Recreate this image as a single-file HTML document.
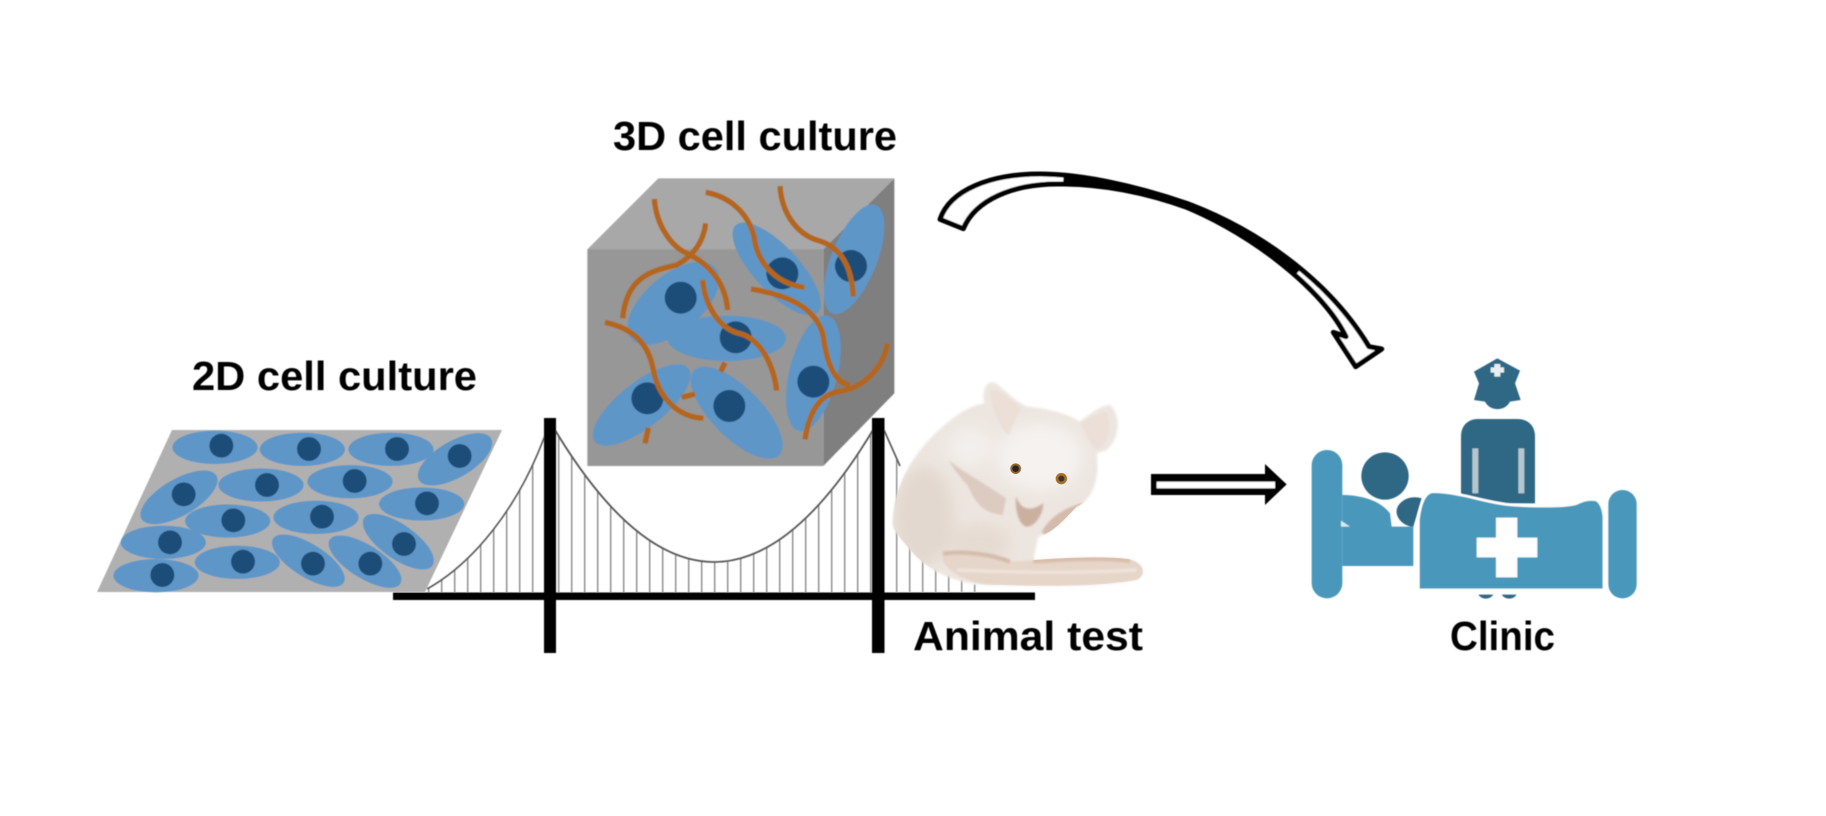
<!DOCTYPE html>
<html><head><meta charset="utf-8"><title>From 2D cell culture to clinic</title>
<style>html,body{margin:0;padding:0;background:#fff;width:1826px;height:816px;overflow:hidden}svg{display:block}
text{font-family:"Liberation Sans",sans-serif;font-weight:bold;font-size:41px;fill:#000}</style></head>
<body>
<svg width="1826" height="816" viewBox="0 0 1826 816" xmlns="http://www.w3.org/2000/svg">
<defs>
<filter id="s" x="-5%" y="-5%" width="110%" height="110%"><feGaussianBlur stdDeviation="0.6"/></filter>
<filter id="m" x="-10%" y="-10%" width="120%" height="120%"><feGaussianBlur stdDeviation="3"/></filter>
<filter id="e" x="-10%" y="-10%" width="120%" height="120%"><feGaussianBlur stdDeviation="4"/></filter>
<filter id="m2" x="-40%" y="-40%" width="180%" height="180%"><feGaussianBlur stdDeviation="22"/></filter>
<pattern id="h" x="571" y="0" width="13" height="10" patternUnits="userSpaceOnUse"><rect x="0" y="0" width="1.4" height="10" fill="#8a8a8a"/></pattern>
<clipPath id="mc"><path d="M38 460 C40 350 100 240 200 160 C240 125 280 105 312 100 C305 60 320 30 345 38 C370 55 400 90 440 110 C500 115 560 130 600 155 C630 130 665 105 690 105 C720 130 725 200 680 240 L650 250 C660 320 640 390 590 410 C560 440 520 490 475 500 L460 570 C560 562 700 558 750 568 C795 580 800 615 770 630 C660 650 500 650 360 645 C260 650 170 620 110 560 C65 510 38 480 38 460 Z"/></clipPath>
</defs>
<rect width="1826" height="816" fill="#fff"/>

<g filter="url(#s)">
<!-- bridge -->
<path d="M427 590 C470 565 520 510 549 424 L549 593 L427 593 Z" fill="url(#h)"/>
<path d="M552 425 Q714 699 876 425 L876 593 L552 593 Z" fill="url(#h)"/>
<path d="M884 430 C920 510 950 570 985 592 L884 592 Z" fill="url(#h)"/>
<path d="M427 589 C470 565 520 510 549 424" fill="none" stroke="#555" stroke-width="1.6"/>
<path d="M552 425 Q714 699 876 425" fill="none" stroke="#555" stroke-width="1.8"/>
<path d="M884 430 L900 466" fill="none" stroke="#555" stroke-width="1.6"/>

<!-- 2D culture -->
<polygon points="172,430 502,430 425,592 97,592" fill="#b0b0b0"/>
<g transform="translate(80 340) scale(.33333)">
<g fill="#5f96c8">
<ellipse cx="405" cy="322" rx="128" ry="50"/><ellipse cx="667" cy="328" rx="128" ry="50"/><ellipse cx="933" cy="328" rx="128" ry="50"/>
<ellipse cx="1125" cy="358" rx="125" ry="55" transform="rotate(-30 1125 358)"/>
<ellipse cx="297" cy="472" rx="130" ry="55" transform="rotate(-30 297 472)"/>
<ellipse cx="543" cy="435" rx="128" ry="50"/><ellipse cx="810" cy="425" rx="128" ry="50"/><ellipse cx="1025" cy="492" rx="128" ry="50"/>
<ellipse cx="443" cy="543" rx="128" ry="50"/><ellipse cx="708" cy="532" rx="128" ry="50"/>
<ellipse cx="955" cy="605" rx="125" ry="52" transform="rotate(35 955 605)"/>
<ellipse cx="250" cy="607" rx="128" ry="50"/><ellipse cx="472" cy="667" rx="128" ry="50"/>
<ellipse cx="685" cy="662" rx="125" ry="50" transform="rotate(32 685 662)"/>
<ellipse cx="855" cy="665" rx="125" ry="50" transform="rotate(32 855 665)"/>
<ellipse cx="228" cy="707" rx="128" ry="50"/>
</g>
<g fill="#1f4e79">
<circle cx="424" cy="317" r="36"/><circle cx="687" cy="327" r="36"/><circle cx="951" cy="327" r="36"/><circle cx="1139" cy="348" r="36"/>
<circle cx="311" cy="463" r="36"/><circle cx="561" cy="435" r="36"/><circle cx="824" cy="423" r="36"/><circle cx="1041" cy="490" r="36"/>
<circle cx="460" cy="541" r="36"/><circle cx="726" cy="530" r="36"/><circle cx="972" cy="612" r="36"/><circle cx="270" cy="607" r="36"/>
<circle cx="489" cy="665" r="36"/><circle cx="699" cy="671" r="36"/><circle cx="871" cy="671" r="36"/><circle cx="247" cy="705" r="36"/>
</g>
</g>

<!-- 3D culture -->
<g transform="translate(560 100) scale(.33333)">
<polygon points="82,448 295,235 1003,235 790,448" fill="#a8a8a8"/>
<polygon points="790,448 1003,235 1003,880 790,1098" fill="#7f7f7f"/>
<rect x="82" y="448" width="708" height="650" fill="#979797"/>
<g fill="#5f96c8">
<ellipse cx="340" cy="610" rx="165" ry="85" transform="rotate(-40 340 610)"/>
<ellipse cx="500" cy="715" rx="178" ry="68"/>
<ellipse cx="650" cy="507" rx="180" ry="68" transform="rotate(47 650 507)"/>
<ellipse cx="882" cy="478" rx="175" ry="68" transform="rotate(-68 882 478)"/>
<ellipse cx="760" cy="820" rx="178" ry="72" transform="rotate(-76 760 820)"/>
<ellipse cx="245" cy="915" rx="178" ry="68" transform="rotate(-38 245 915)"/>
<ellipse cx="530" cy="938" rx="180" ry="75" transform="rotate(45 530 938)"/>
</g>
<g fill="#1f4e79">
<circle cx="362" cy="593" r="48"/><circle cx="527" cy="712" r="48"/><circle cx="667" cy="520" r="48"/><circle cx="873" cy="498" r="48"/>
<circle cx="760" cy="845" r="48"/><circle cx="262" cy="895" r="48"/><circle cx="508" cy="918" r="48"/>
</g>
<g fill="none" stroke="#b4661f" stroke-width="16">
<path d="M283 297 C288 370 330 440 385 462 C440 490 495 540 503 630"/>
<path d="M437 370 C430 430 395 470 350 495 C290 510 200 520 188 655"/>
<path d="M437 277 C510 290 565 340 582 410 C590 480 640 550 733 562"/>
<path d="M660 258 C665 340 710 400 770 420 C850 440 875 510 880 590"/>
<path d="M428 540 C435 620 480 690 545 702 C600 720 640 790 650 872"/>
<path d="M573 567 C680 585 770 620 790 710 C800 790 825 850 870 855"/>
<path d="M135 667 C220 685 265 730 280 810 C295 890 350 950 430 955"/>
<path d="M982 730 C970 810 900 870 830 875 C770 890 745 950 735 1018"/>
<path d="M495 788 L482 815"/><path d="M365 892 L405 882"/><path d="M265 983 L255 1030"/>
</g>
</g>

<!-- bridge towers and deck -->
<rect x="393" y="592.5" width="642" height="7.5" fill="#000"/>
<rect x="544" y="418" width="12" height="235" fill="#000"/>
<rect x="872" y="418" width="12.5" height="235" fill="#000"/>
</g>

<!-- mouse -->
<g transform="translate(880 370) scale(.33333)">
<g filter="url(#e)">
<path d="M38 460 C40 350 100 240 200 160 C240 125 280 105 312 100 C305 60 320 30 345 38 C370 55 400 90 440 110 C500 115 560 130 600 155 C630 130 665 105 690 105 C720 130 725 200 680 240 L650 250 C660 320 640 390 590 410 C560 440 520 490 475 500 L460 570 C560 562 700 558 750 568 C795 580 800 615 770 630 C660 650 500 650 360 645 C260 650 170 620 110 560 C65 510 38 480 38 460 Z" fill="#ede6e0"/>
</g>
<g clip-path="url(#mc)">
<g filter="url(#m2)">
<ellipse cx="130" cy="440" rx="90" ry="150" fill="#e2d8cf"/>
<ellipse cx="300" cy="520" rx="90" ry="60" fill="#e6dbd2"/>
<ellipse cx="480" cy="260" rx="130" ry="100" fill="#f5f2f0"/>
<ellipse cx="270" cy="230" rx="70" ry="60" fill="#f3efec"/>
</g>
<g filter="url(#m)">
<path d="M330 60 C335 110 355 170 385 195 C400 160 410 130 425 115 C390 90 355 55 330 60 Z" fill="#ebdfd8"/>
<path d="M600 160 C620 190 630 225 650 240 C680 220 700 180 680 125 C650 130 625 145 600 160 Z" fill="#ecdfd8"/>
<path d="M205 270 C240 300 320 345 378 385 L368 435 C320 430 290 410 265 350 C240 320 220 295 205 270 Z" fill="#dccbc0"/>
<path d="M408 378 C420 415 445 430 490 400 C488 440 460 472 438 470 C415 460 405 420 408 378 Z" fill="#cbb0a0"/>
<path d="M485 485 C510 440 560 410 612 398 C590 430 545 475 495 495 Z" fill="#d4bbac"/>
<path d="M185 548 C260 540 340 555 395 575 L460 572 C560 562 700 558 750 568 C795 580 800 615 770 630 C660 650 500 650 360 645 C280 645 220 620 190 575 Z" fill="#e6d5c9"/>
<path d="M190 550 C260 542 340 555 390 575" fill="none" stroke="#d3bba9" stroke-width="12"/>
<path d="M460 574 C560 566 680 562 750 572" fill="none" stroke="#d9bdaa" stroke-width="14"/>
<path d="M230 600 C340 605 560 612 770 600" fill="none" stroke="#efe4dc" stroke-width="10"/>
</g>
</g>
<circle cx="407" cy="296" r="16" fill="#96632c"/><circle cx="407" cy="296" r="10" fill="#262626"/>
<circle cx="544" cy="326" r="17" fill="#a86e2b"/><circle cx="544" cy="326" r="9" fill="#3e352e"/>
</g>

<g filter="url(#s)">
<!-- straight arrow -->
<g transform="translate(860 370) scale(.33333)">
<polygon points="873,312 1215,312 1215,282 1280,343 1215,405 1215,375 873,375" fill="#000"/>
<rect x="890" y="335" width="355" height="20" fill="#fff"/>
</g>

<!-- curved arrow -->
<g transform="translate(920 150) scale(.33333)">
<path d="M60 208 C90 120 210 72 360 72 C480 72 640 105 800 160 C1000 235 1220 380 1347 590 L1385 597 L1307 650 L1240 547 L1278 560 C1210 420 1000 255 800 172 C650 118 520 102 420 102 C280 100 165 150 130 236 Z" fill="#fff" stroke="#000" stroke-width="15" stroke-linejoin="round"/>
<path d="M430 90 C560 98 680 125 800 167 C920 215 1040 285 1135 365" fill="none" stroke="#000" stroke-width="21"/>
</g>

<!-- clinic -->
<g transform="translate(1280 340) scale(.33333)">
<path d="M652 55 L720 92 L705 130 L722 180 L690 185 C675 215 630 215 615 185 L582 180 L597 130 L582 95 Z" fill="#2f6884"/>
<path d="M643 72 H661 V82 H672 V98 H661 V110 H643 V98 H632 V82 H643 Z" fill="#e8eef2"/>
<path d="M543 490 V290 C543 255 565 237 595 237 H712 C742 237 765 255 765 290 V490 Z" fill="#2f6884"/>
<rect x="577" y="325" width="18" height="135" fill="#b4c6d0"/><rect x="715" y="325" width="18" height="135" fill="#b4c6d0"/>
<circle cx="315" cy="408" r="71" fill="#2f6884"/>
<path d="M187 465 C240 465 300 480 330 520 L335 560 L400 560 L400 678 L187 678 Z" fill="#4a98bb"/>
<path d="M425 475 C385 462 345 490 350 520 C355 545 380 560 400 560 Z" fill="#2f6884"/>
<rect x="95" y="330" width="92" height="445" rx="46" fill="#4a98bb"/>
<rect x="985" y="450" width="85" height="325" rx="42" fill="#4a98bb"/>
<path d="M183 542 L210 560 L183 560 Z" fill="#dce8ee"/>
<path d="M415 750 L415 540 C420 490 435 455 460 455 C540 455 620 490 700 495 C780 500 860 500 890 490 C910 480 930 475 950 480 C965 490 970 510 972 530 L972 750 Z" fill="#4a98bb" stroke="#fff" stroke-width="8"/>
<path d="M648 533 H712 V593 H772 V652 H712 V712 H648 V652 H590 V593 H648 Z" fill="#fff"/>
<path d="M595 764 H640 C630 780 605 780 595 764 Z M665 764 H710 C700 780 675 780 665 764 Z" fill="#2f6884"/>
</g>

<!-- labels -->
<text x="192" y="390" textLength="285" lengthAdjust="spacingAndGlyphs">2D cell culture</text>
<text x="613" y="150" textLength="284" lengthAdjust="spacingAndGlyphs">3D cell culture</text>
<text x="913" y="650" textLength="230" lengthAdjust="spacingAndGlyphs">Animal test</text>
<text x="1450" y="650" textLength="105" lengthAdjust="spacingAndGlyphs">Clinic</text>
</g>
</svg>
</body></html>
